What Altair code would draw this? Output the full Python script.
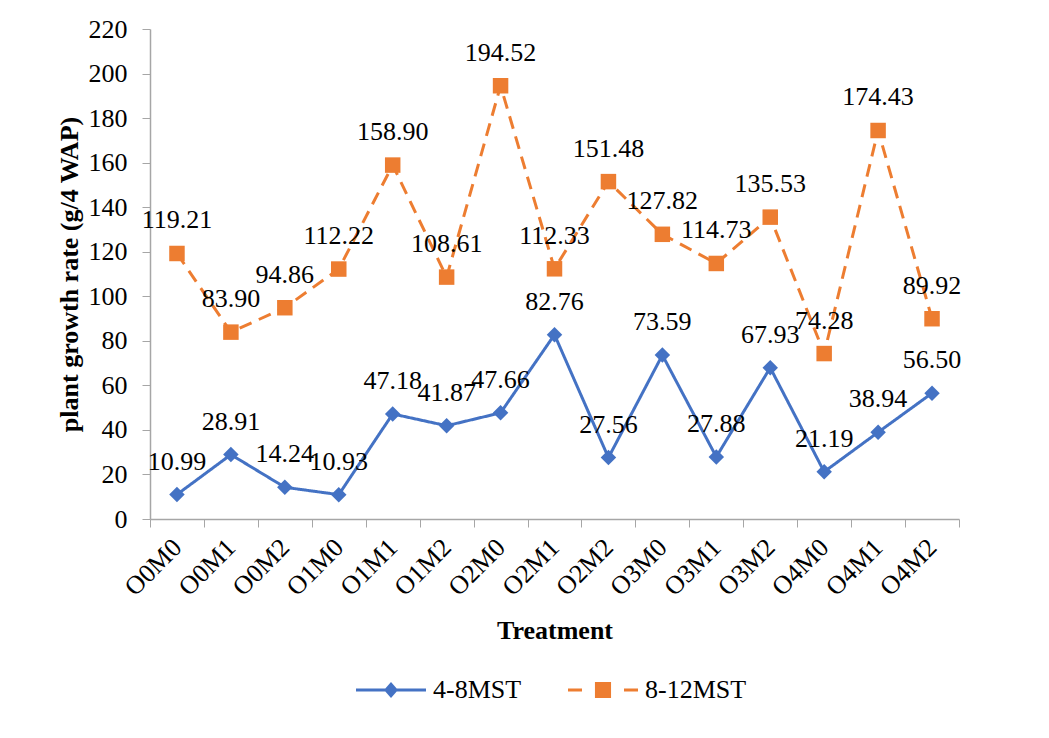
import altair as alt
import pandas as pd

treatments = ["O0M0", "O0M1", "O0M2", "O1M0", "O1M1", "O1M2", "O2M0", "O2M1",
              "O2M2", "O3M0", "O3M1", "O3M2", "O4M0", "O4M1", "O4M2"]
s1_name = "4-8MST"
s2_name = "8-12MST"
s1_values = [10.99, 28.91, 14.24, 10.93, 47.18, 41.87, 47.66, 82.76,
             27.56, 73.59, 27.88, 67.93, 21.19, 38.94, 56.50]
s2_values = [119.21, 83.90, 94.86, 112.22, 158.90, 108.61, 194.52, 112.33,
             151.48, 127.82, 114.73, 135.53, 74.28, 174.43, 89.92]

rows = []
for t, v in zip(treatments, s1_values):
    rows.append({"Treatment": t, "series": s1_name, "value": v, "label": f"{v:.2f}"})
for t, v in zip(treatments, s2_values):
    rows.append({"Treatment": t, "series": s2_name, "value": v, "label": f"{v:.2f}"})
df = pd.DataFrame(rows)
df["Series"] = df["series"]

FONT = "Liberation Serif"
FS = 26
BLUE, ORANGE = "#4472C4", "#ED7D31"
colors = [BLUE, ORANGE]
AXIS_GRAY = "#A6A6A6"
domain = [s1_name, s2_name]

x_enc = alt.X(
    "Treatment:N",
    sort=treatments,
    bandPosition=0.5,
    scale=alt.Scale(type="band", paddingInner=0, paddingOuter=0),
    axis=alt.Axis(
        title="Treatment",
        titleFont=FONT, titleFontSize=FS, titleFontWeight="bold", titleColor="black",
        titlePadding=17,
        labelAngle=-45, labelAlign="right", labelBaseline="middle",
        labelFont=FONT, labelFontSize=FS, labelColor="black", labelPadding=16,
        tickBand="extent", tickSize=8, tickColor=AXIS_GRAY,
        domainColor=AXIS_GRAY, domainWidth=1.5, grid=False,
    ),
)
y_enc = alt.Y(
    "value:Q",
    scale=alt.Scale(domain=[0, 220], nice=False),
    axis=alt.Axis(
        title="plant growth rate (g/4 WAP)",
        titleFont=FONT, titleFontSize=FS, titleFontWeight="bold", titleColor="black",
        titlePadding=6,
        values=list(range(0, 221, 20)),
        labelFont=FONT, labelFontSize=FS, labelColor="black", labelPadding=15,
        tickSize=8, tickColor=AXIS_GRAY,
        domainColor=AXIS_GRAY, domainWidth=1.5, grid=False,
    ),
)

# legend symbols: a line (solid / dashed) with the series marker, in [-1, 1] coords
sym_blue = ("M-1,-0.045H1V0.045H-1Z "
            "M0,-0.23L0.2,0L0,0.23L-0.2,0Z")
sym_orange = ("M-1,-0.045H-0.6V0.045H-1Z "
              "M0.6,-0.045H1V0.045H0.6Z "
              "M-0.23,-0.23H0.23V0.23H-0.23Z")

legend = alt.Legend(
    title=None, orient="none", direction="horizontal",
    legendX=206, legendY=626,
    labelFont=FONT, labelFontSize=FS, labelColor="black",
    symbolSize=4900, symbolStrokeWidth=0, symbolOpacity=1,
    columnPadding=46, labelOffset=7,
)

color_main = alt.Color("series:N", scale=alt.Scale(domain=domain, range=colors), legend=None)

base = alt.Chart(df)

lines = base.mark_line(strokeWidth=3).encode(
    x=x_enc, y=y_enc, color=color_main,
    strokeDash=alt.StrokeDash(
        "series:N",
        scale=alt.Scale(domain=domain, range=[[1, 0], [13, 8]]),
        legend=None,
    ),
)

points = base.mark_point(filled=True, opacity=1, size=240).encode(
    x=x_enc, y=y_enc, color=color_main,
    shape=alt.Shape("series:N", scale=alt.Scale(domain=domain, range=["diamond", "square"]),
                    legend=None),
)

labels = base.mark_text(dy=-33, font=FONT, fontSize=FS, color="black").encode(
    x=x_enc, y=y_enc, text="label:N",
)

legend_layer = base.mark_point(filled=True, size=0, strokeWidth=0).encode(
    x=x_enc, y=y_enc,
    color=alt.Color("Series:N", scale=alt.Scale(domain=domain, range=colors), legend=legend),
    shape=alt.Shape("Series:N", scale=alt.Scale(domain=domain, range=[sym_blue, sym_orange]),
                    legend=legend),
)

chart = alt.layer(lines, points, labels, legend_layer).resolve_scale(
    color="independent", shape="independent", strokeDash="independent"
).properties(
    width=809, height=490,
    padding={"left": 48, "top": 8, "right": 5, "bottom": 5},
    background="white",
).configure_view(stroke=None)

chart.save("out.html", embed_options={"renderer": "svg", "actions": False})
